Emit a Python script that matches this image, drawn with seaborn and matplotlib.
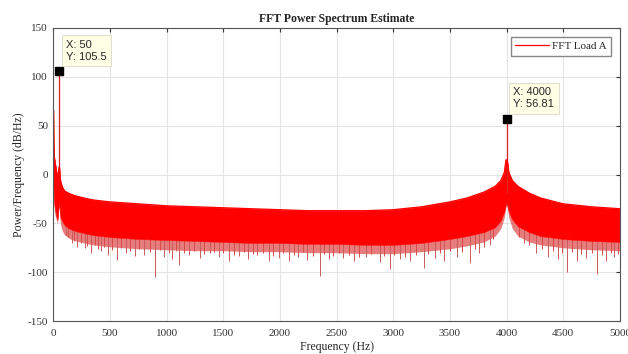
import numpy as np
import pandas as pd
import matplotlib
matplotlib.use('Agg')
import matplotlib.pyplot as plt
import seaborn as sns

# envelope of the noise band (Hz, dB/Hz)
env_freq = [0, 3, 8, 15, 25, 35, 42, 47, 53, 58, 65, 80, 100, 150, 200, 270, 350, 500,
            750, 1000, 1250, 1500, 1750, 2000, 2250, 2500, 2750, 3000, 3250, 3500,
            3650, 3800, 3900, 3950, 3980, 3995, 4005, 4020, 4050, 4100, 4200, 4300,
            4500, 4750, 5000]
env_top = [66, 30, 18, 12, 5, -2, -8, 5, 8, -2, -8, -13, -17, -20, -22, -24, -26, -28,
           -30, -32, -33, -34, -35, -36, -37, -37, -37, -36, -33, -28,
           -24, -18, -12, -6, 2, 15, 15, 2, -6, -12, -19, -24,
           -30, -33, -35]
env_low = [-5, -20, -30, -36, -42, -46, -42, -30, -30, -40, -45, -48, -52, -56, -58, -60, -62, -64,
           -66, -67, -68, -69, -70, -70, -71, -71, -72, -72, -70, -66,
           -63, -59, -54, -47, -38, -30, -30, -38, -46, -53, -59, -63,
           -66, -68, -69]
# lighter fringe under the solid band
env_fringe = [-5, -25, -35, -42, -46, -50, -46, -35, -35, -46, -52, -58, -62, -66, -68, -70, -72, -74,
              -76, -77, -78, -78, -79, -79, -80, -80, -81, -81, -79, -76,
              -73, -69, -63, -55, -44, -33, -33, -44, -55, -63, -69, -72,
              -75, -77, -78]

# deep spikes reaching below the band
spike_freq = [110, 160, 210, 280, 330, 420, 480, 565, 640, 720, 800, 900, 980, 1050,
              1110, 1200, 1290, 1380, 1460, 1550, 1640, 1720, 1800, 1900, 1990, 2080,
              2160, 2240, 2350, 2430, 2560, 2650, 2760, 2880, 2970, 3060, 3150, 3270,
              3370, 3450, 3560, 3680, 3760, 3850, 4150, 4260, 4370, 4450, 4530, 4620,
              4700, 4800, 4880, 4950]
spike_db = [-62, -70, -74, -75, -80, -78, -82, -87, -80, -83, -82, -105, -84, -86,
            -93, -82, -85, -80, -84, -88, -83, -86, -82, -89, -85, -88,
            -84, -87, -104, -86, -85, -89, -84, -90, -97, -86, -88, -96,
            -85, -88, -84, -91, -80, -72, -70, -80, -84, -86, -100, -88,
            -85, -102, -88, -84]

# shallower spikes that make the ragged lower edge
rag_freq = [125, 185, 240, 300, 365, 395, 450, 520, 600, 680, 760, 850, 940, 1020,
            1080, 1150, 1240, 1330, 1420, 1500, 1590, 1680, 1760, 1850, 1940, 2030,
            2120, 2200, 2290, 2390, 2470, 2520, 2610, 2700, 2800, 2920, 3010, 3100,
            3200, 3310, 3410, 3500, 3610, 3720, 3800, 3880, 4110, 4200, 4310, 4410,
            4490, 4580, 4660, 4750, 4840, 4920, 4980]
rag_db = [-64, -68, -70, -73, -72, -76, -74, -77, -75, -78, -76, -79, -77, -80,
          -78, -80, -78, -81, -79, -80, -82, -79, -81, -80, -83, -80,
          -82, -79, -83, -81, -83, -80, -82, -84, -81, -83, -82, -84,
          -82, -81, -80, -78, -79, -76, -74, -66, -64, -72, -76, -78,
          -80, -79, -81, -80, -82, -80, -81]

# labelled peaks
peak_freq = [50, 4000]
peak_db = [105.5, 56.81]
peak_base = [0, -20]
peak_text = ['X: 50\nY: 105.5', 'X: 4000\nY: 56.81']

sns.set_style('whitegrid', {'grid.color': '#e4e4e4', 'axes.edgecolor': '#555555'})
plt.rcParams['font.family'] = ['Liberation Serif', 'DejaVu Serif']
plt.rcParams['axes.unicode_minus'] = False

fig = plt.figure(figsize=(6.28, 3.54), dpi=100)
ax = fig.add_axes([0.085, 0.093, 0.902, 0.828])

band = pd.DataFrame({'f': env_freq, 'top': env_top, 'low': env_low, 'fringe': env_fringe})
ax.fill_between(band['f'], band['fringe'], band['low'], color='#e05050', alpha=0.75,
                lw=0, zorder=1)
ax.fill_between(band['f'], band['low'], band['top'], color='#ff0000', lw=0.4, zorder=2)
ax.vlines(spike_freq, [np.interp(f, env_freq, env_low) + 3 for f in spike_freq], spike_db,
          color='#c85a5a', lw=0.7, zorder=1)
ax.vlines(rag_freq, [np.interp(f, env_freq, env_low) + 3 for f in rag_freq], rag_db,
          color='#d84a4a', lw=0.7, zorder=1)
ax.vlines(peak_freq, peak_base, peak_db, color='#e02020', lw=0.9, zorder=2)
sns.lineplot(x=band['f'], y=band['top'], color='#ff0000', lw=0.9, ax=ax,
             label='FFT Load A', zorder=2)

ax.plot(peak_freq, peak_db, 's', color='black', ms=6, zorder=5)
offsets = [(5, 7), (5, 7)]
for f, d, t, off in zip(peak_freq, peak_db, peak_text, offsets):
    ax.annotate(t, (f, d), xytext=off, textcoords='offset points', fontsize=8,
                family=['Liberation Sans', 'DejaVu Sans'], va='bottom', ha='left',
                linespacing=1.25, zorder=6,
                bbox=dict(boxstyle='square,pad=0.4', fc='#ffffe6', ec='#d8d8c8', lw=0.6))

ax.set_xlim(0, 5000)
ax.set_ylim(-150, 150)
ax.set_xticks(range(0, 5001, 500))
ax.set_yticks(range(-150, 151, 50))
ax.tick_params(direction='in', length=3, labelsize=8, colors='#333333',
               top=True, right=True, labeltop=False, labelright=False, pad=4)
ax.tick_params(axis='x', pad=6)
for s in ax.spines.values():
    s.set_linewidth(0.8)
ax.set_title('FFT Power Spectrum Estimate', fontsize=8.5, fontweight='bold', pad=4)
ax.set_xlabel('Frequency (Hz)', fontsize=8.5, labelpad=2)
ax.set_ylabel('Power/Frequency (dB/Hz)', fontsize=8.5, labelpad=2)
ax.legend(loc='upper right', fontsize=8, frameon=True, fancybox=False,
          edgecolor='#888888', framealpha=1, handlelength=3, handletextpad=0.3,
          borderaxespad=0.8)

fig.savefig('out.png', dpi=100)
